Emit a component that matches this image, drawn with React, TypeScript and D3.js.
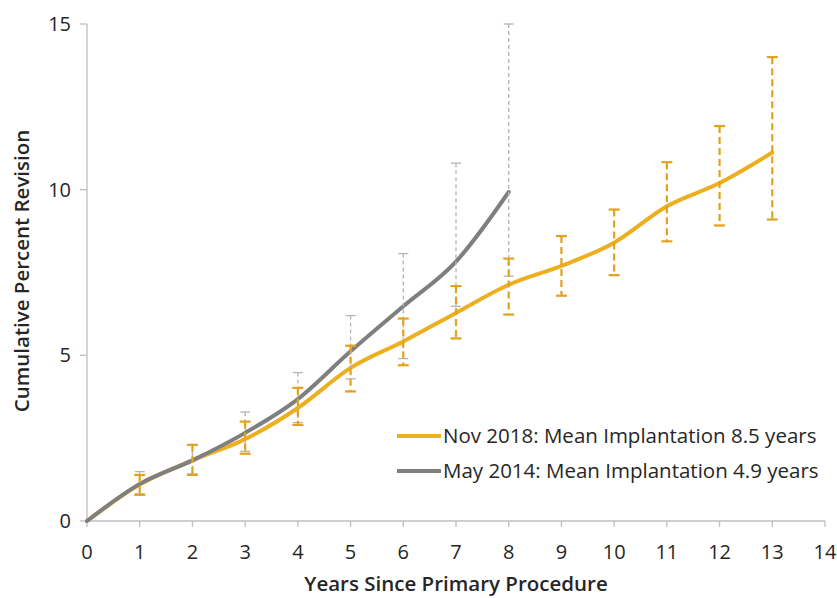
import React from "react";
import * as d3 from "d3";

const years = [0, 1, 2, 3, 4, 5, 6, 7, 8, 9, 10, 11, 12, 13];
const nov2018 = [0, 1.1, 1.83, 2.47, 3.41, 4.62, 5.42, 6.28, 7.13, 7.7, 8.4, 9.5, 10.2, 11.12];
const nov2018Upper = [null, 1.39, 2.3, 3.0, 4.02, 5.29, 6.11, 7.09, 7.92, 8.6, 9.4, 10.83, 11.92, 14.0];
const nov2018Lower = [null, 0.79, 1.39, 2.03, 2.9, 3.91, 4.7, 5.51, 6.23, 6.8, 7.42, 8.44, 8.92, 9.1];
const may2014Years = [0, 1, 2, 3, 4, 5, 6, 7, 8];
const may2014 = [0, 1.12, 1.83, 2.66, 3.68, 5.12, 6.48, 7.83, 9.93];
const may2014Upper = [null, 1.49, 2.3, 3.29, 4.48, 6.2, 8.07, 10.8, 15.0];
const may2014Lower = [null, 0.82, 1.42, 2.1, 2.97, 4.29, 4.9, 6.48, 7.39];
const xTicks = [0, 1, 2, 3, 4, 5, 6, 7, 8, 9, 10, 11, 12, 13, 14];
const yTicks = [0, 5, 10, 15];
const legendLabels = [
  "Nov 2018: Mean Implantation 8.5 years",
  "May 2014: Mean Implantation 4.9 years",
];

const ORANGE = "#EDAF1F";
const ORANGE_BAR = "#E2A21B";
const GRAY = "#7F7F7F";
const GRAY_BAR = "#B4B4B4";
const AXIS = "#BFBFBF";
const TEXT = "#262626";
const FONT = "'Open Sans', 'Noto Sans', sans-serif";

export default function App() {
  const x = d3.scaleLinear().domain([0, 14]).range([87, 825]);
  const y = d3.scaleLinear().domain([0, 15]).range([521, 24]);

  const line = d3
    .line<[number, number]>()
    .x((d) => x(d[0]))
    .y((d) => y(d[1]))
    .curve(d3.curveCatmullRom.alpha(0));

  const orangePts = years.map((yr, i) => [yr, nov2018[i]] as [number, number]);
  const grayPts = may2014Years.map((yr, i) => [yr, may2014[i]] as [number, number]);

  const bars = (
    xs: number[],
    up: (number | null)[],
    lo: (number | null)[],
    color: string,
    dash: string,
    width: number,
    cap: number,
    key: string
  ) =>
    xs.map((yr, i) => {
      const u = up[i];
      const l = lo[i];
      if (u == null || l == null) return null;
      const cx = x(yr);
      return (
        <g key={key + i}>
          <line x1={cx} x2={cx} y1={y(u)} y2={y(l)} stroke={color} strokeWidth={width} strokeDasharray={dash} />
          <line x1={cx - cap} x2={cx + cap} y1={y(u)} y2={y(u)} stroke={color} strokeWidth={width} />
          <line x1={cx - cap} x2={cx + cap} y1={y(l)} y2={y(l)} stroke={color} strokeWidth={width} />
        </g>
      );
    });

  return (
    <svg
      width={837}
      height={598}
      style={{ position: "absolute", left: 0, top: 0, background: "#fff" }}
      fontFamily={FONT}
    >
      {/* axes */}
      <line x1={x(0)} x2={x(0)} y1={y(15)} y2={y(0)} stroke={AXIS} strokeWidth={1.3} />
      <line x1={x(0)} x2={x(14)} y1={y(0)} y2={y(0)} stroke={AXIS} strokeWidth={1.3} />
      {yTicks.map((t) => (
        <g key={"yt" + t}>
          <line x1={x(0) - 7} x2={x(0)} y1={y(t)} y2={y(t)} stroke={AXIS} strokeWidth={1.3} />
          <text x={71} y={y(t)} dy="0.35em" textAnchor="end" fontSize={20} fill={TEXT}>
            {t}
          </text>
        </g>
      ))}
      {xTicks.map((t) => (
        <g key={"xt" + t}>
          <line x1={x(t)} x2={x(t)} y1={y(0)} y2={y(0) + 6} stroke={AXIS} strokeWidth={1.3} />
          <text x={x(t)} y={552} dy="0.35em" textAnchor="middle" fontSize={20} fill={TEXT}>
            {t}
          </text>
        </g>
      ))}
      <text
        transform={`translate(22,271) rotate(-90)`}
        textAnchor="middle"
        dy="0.35em"
        fontSize={20.5}
        fontWeight={600}
        fill={TEXT}
      >
        Cumulative Percent Revision
      </text>
      <text x={456} y={584} dy="0.35em" textAnchor="middle" fontSize={20.5} fontWeight={600} fill={TEXT}>
        Years Since Primary Procedure
      </text>

      {/* lines */}
      <path d={line(orangePts) || ""} fill="none" stroke={ORANGE} strokeWidth={4} strokeLinecap="round" />
      <path d={line(grayPts) || ""} fill="none" stroke={GRAY} strokeWidth={4} strokeLinecap="round" />

      {/* error bars */}
      {bars(may2014Years, may2014Upper, may2014Lower, GRAY_BAR, "4 3", 1.3, 5, "g")}
      {bars(years, nov2018Upper, nov2018Lower, ORANGE_BAR, "7 4", 2.2, 5.5, "o")}

      {/* legend */}
      {legendLabels.map((lab, i) => (
        <g key={"lg" + i}>
          <line
            x1={397}
            x2={441}
            y1={436 + i * 35}
            y2={436 + i * 35}
            stroke={i === 0 ? ORANGE : GRAY}
            strokeWidth={4}
          />
          <text x={443} y={436 + i * 35} dy="0.35em" fontSize={20.5} fill={TEXT}>
            {lab}
          </text>
        </g>
      ))}
    </svg>
  );
}
